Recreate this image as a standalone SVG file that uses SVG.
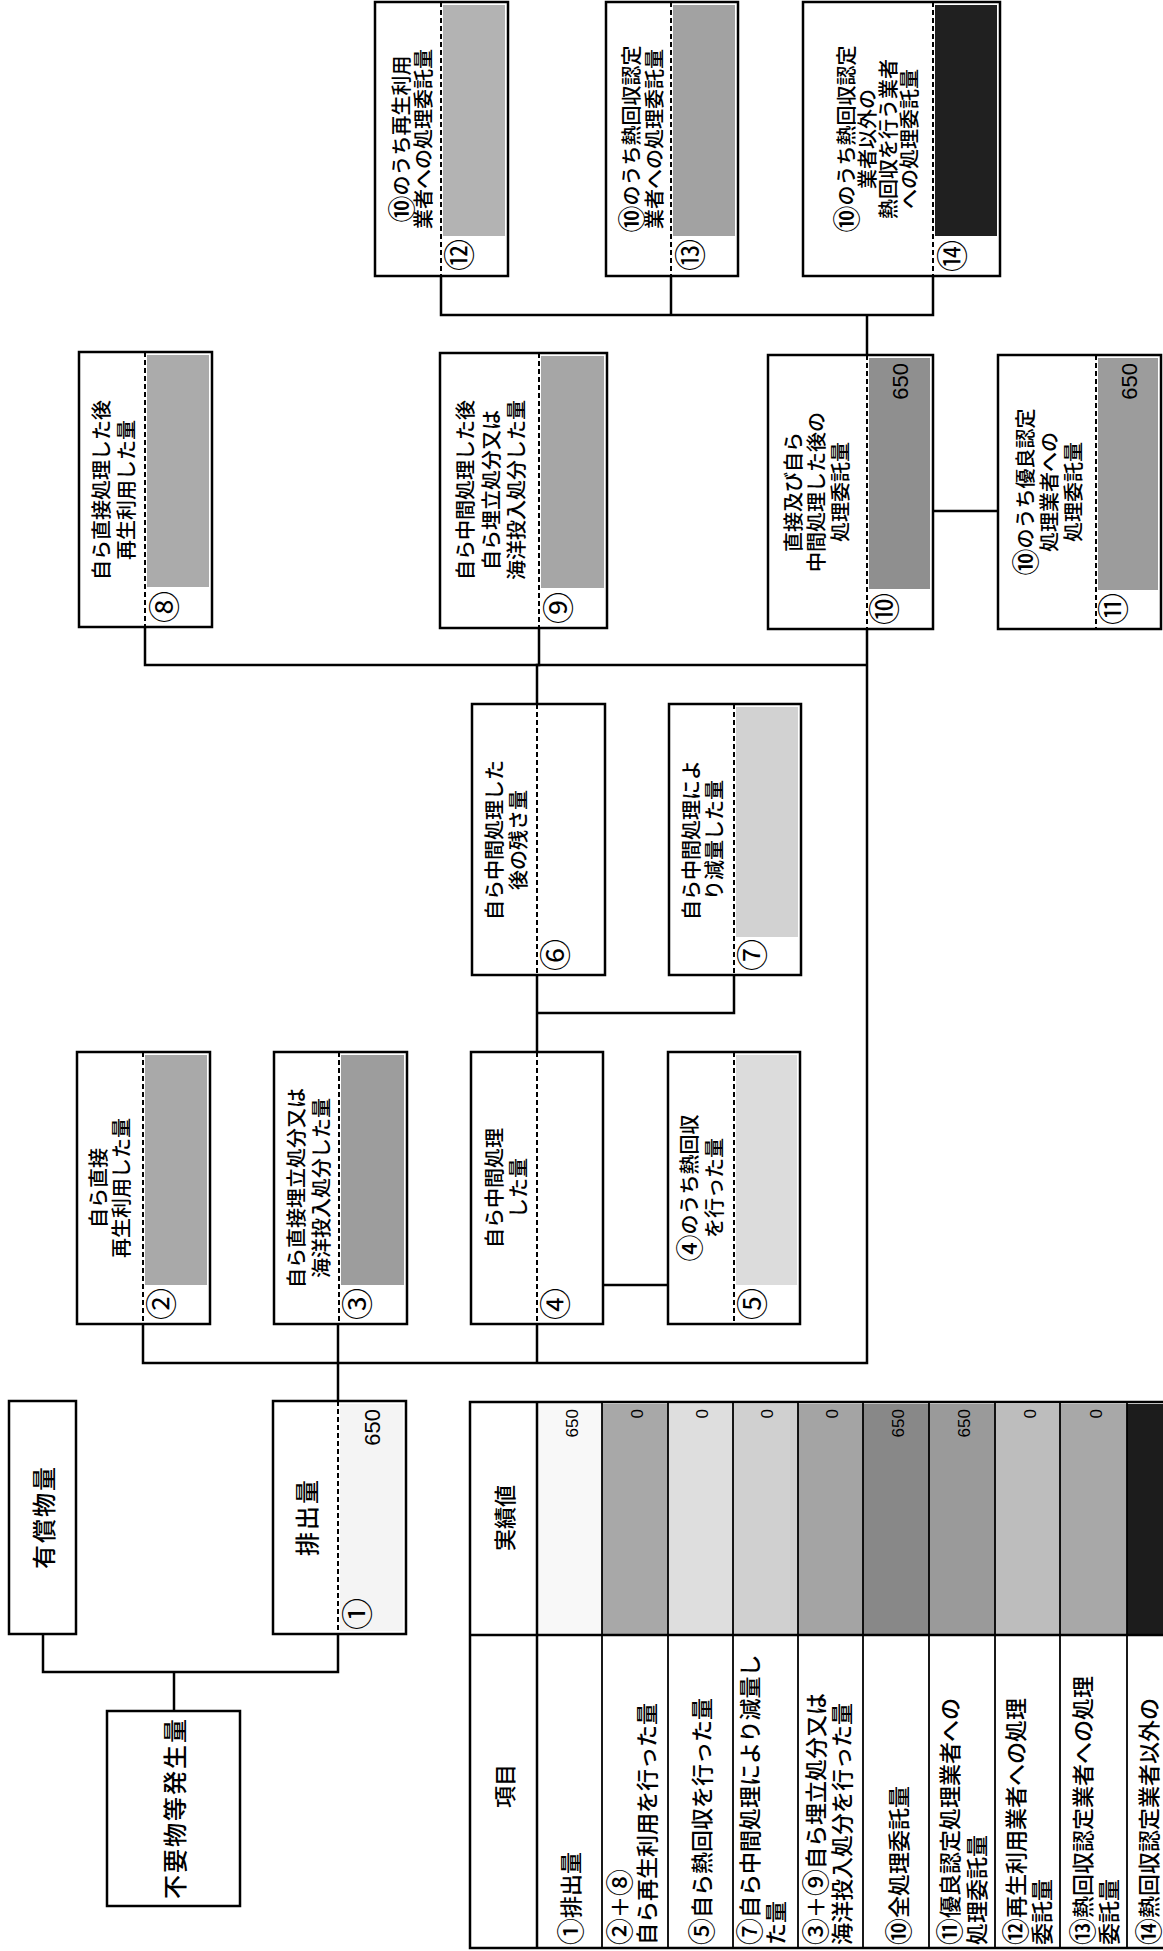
<svg xmlns="http://www.w3.org/2000/svg" width="1163" height="1951" viewBox="0 0 1163 1951">
<style>
.box{fill:#fff;stroke:#000;stroke-width:2.5}
.dash{stroke:#000;stroke-width:2;stroke-dasharray:5 3}
.conn{fill:none;stroke:#000;stroke-width:2.5}
.t{font-family:"Noto Sans CJK JP","Liberation Sans",sans-serif;font-size:20px;font-weight:500;text-anchor:middle;dominant-baseline:central;fill:#000}
.big{font-size:24px;letter-spacing:2px}
.c{font-size:27px}
.num{font-family:"Noto Sans CJK JP",sans-serif;font-size:32px;text-anchor:middle;dominant-baseline:central}
.val{font-family:"Liberation Sans",sans-serif;font-size:22px;text-anchor:end;dominant-baseline:central}
.tv{font-family:"Liberation Sans",sans-serif;font-size:17px;text-anchor:end;dominant-baseline:central}
.tl{font-family:"Noto Sans CJK JP",sans-serif;font-size:22px;font-weight:500;text-anchor:start;dominant-baseline:central}
.th{font-family:"Noto Sans CJK JP",sans-serif;font-size:22px;font-weight:500;text-anchor:middle;dominant-baseline:central}
.tb{fill:none;stroke:#000;stroke-width:2.5}
.ti{stroke:#000;stroke-width:1.8}
</style>

<g id="connectors" class="conn">
  <polyline points="43,1634 43,1672 338,1672 338,1634"/>
  <line x1="174" y1="1672" x2="174" y2="1711"/>
  <line x1="338" y1="1401" x2="338" y2="1324"/>
  <polyline points="143,1324 143,1363 867,1363 867,629"/>
  <line x1="537" y1="1324" x2="537" y2="1363"/>
  <line x1="603" y1="1285" x2="668" y2="1285"/>
  <line x1="537" y1="1052" x2="537" y2="975"/>
  <polyline points="537,1013 734,1013 734,975"/>
  <polyline points="537,704 537,665 539,665 539,628"/>
  <polyline points="145,627 145,665 867,665"/>
  <line x1="933" y1="511" x2="998" y2="511"/>
  <line x1="867" y1="355" x2="867" y2="315"/>
  <polyline points="441,276 441,315 933,315 933,276"/>
  <line x1="671" y1="276" x2="671" y2="315"/>
</g>

<g id="n-yusho">
  <rect class="box" x="9" y="1401" width="67" height="233"/>
  <text class="t big" transform="translate(42,1517) rotate(-90)">有償物量</text>
</g>

<g id="n-fuyo">
  <rect class="box" x="107" y="1711" width="133" height="195"/>
  <text class="t big" transform="translate(173,1808) rotate(-90)">不要物等発生量</text>
</g>

<g id="n1">
  <rect class="box" x="273" y="1401" width="133" height="233"/>
  <rect x="340" y="1404" width="63" height="227" fill="#f4f4f4"/>
  <line class="dash" x1="338" y1="1401" x2="338" y2="1634"/>
  <text class="t big" transform="translate(305,1517) rotate(-90)">排出量</text>
  <text class="val" transform="translate(372,1409) rotate(-90)">650</text>
  <text class="num" transform="translate(355,1614) rotate(-90)">①</text>
</g>

<g id="n2">
  <rect class="box" x="77" y="1052" width="133" height="272"/>
  <rect x="145" y="1055" width="62" height="230" fill="#a9a9a9"/>
  <line class="dash" x1="143" y1="1052" x2="143" y2="1324"/>
  <text class="t" transform="translate(97,1188) rotate(-90)">自ら直接</text>
  <text class="t" transform="translate(120,1188) rotate(-90)">再生利用した量</text>
  <text class="num" transform="translate(159,1304) rotate(-90)">②</text>
</g>

<g id="n3">
  <rect class="box" x="274" y="1052" width="133" height="272"/>
  <rect x="341" y="1055" width="63" height="230" fill="#9d9d9d"/>
  <line class="dash" x1="339" y1="1052" x2="339" y2="1324"/>
  <text class="t" transform="translate(295,1188) rotate(-90)">自ら直接埋立処分又は</text>
  <text class="t" transform="translate(320,1188) rotate(-90)">海洋投入処分した量</text>
  <text class="num" transform="translate(355,1304) rotate(-90)">③</text>
</g>

<g id="n4">
  <rect class="box" x="471" y="1052" width="132" height="272"/>
  <line class="dash" x1="537" y1="1052" x2="537" y2="1324"/>
  <text class="t" transform="translate(493,1188) rotate(-90)">自ら中間処理</text>
  <text class="t" transform="translate(517,1188) rotate(-90)">した量</text>
  <text class="num" transform="translate(553,1304) rotate(-90)">④</text>
</g>

<g id="n5">
  <rect class="box" x="668" y="1052" width="132" height="272"/>
  <rect x="736" y="1055" width="61" height="230" fill="#dcdcdc"/>
  <line class="dash" x1="734" y1="1052" x2="734" y2="1324"/>
  <text class="t" transform="translate(688,1188) rotate(-90)"><tspan class="c">④</tspan>のうち熱回収</text>
  <text class="t" transform="translate(713,1188) rotate(-90)">を行った量</text>
  <text class="num" transform="translate(750,1304) rotate(-90)">⑤</text>
</g>

<g id="n6">
  <rect class="box" x="472" y="704" width="133" height="271"/>
  <line class="dash" x1="537" y1="704" x2="537" y2="975"/>
  <text class="t" transform="translate(493,840) rotate(-90)">自ら中間処理した</text>
  <text class="t" transform="translate(517,840) rotate(-90)">後の残さ量</text>
  <text class="num" transform="translate(553,955) rotate(-90)">⑥</text>
</g>

<g id="n7">
  <rect class="box" x="669" y="704" width="132" height="271"/>
  <rect x="736" y="707" width="62" height="230" fill="#d2d2d2"/>
  <line class="dash" x1="734" y1="704" x2="734" y2="975"/>
  <text class="t" transform="translate(690,840) rotate(-90)">自ら中間処理によ</text>
  <text class="t" transform="translate(713,840) rotate(-90)">り減量した量</text>
  <text class="num" transform="translate(750,955) rotate(-90)">⑦</text>
</g>

<g id="n8">
  <rect class="box" x="79" y="352" width="133" height="275"/>
  <rect x="147" y="355" width="62" height="232" fill="#ababab"/>
  <line class="dash" x1="145" y1="352" x2="145" y2="627"/>
  <text class="t" transform="translate(100,490) rotate(-90)">自ら直接処理した後</text>
  <text class="t" transform="translate(125,490) rotate(-90)">再生利用した量</text>
  <text class="num" transform="translate(162,607) rotate(-90)">⑧</text>
</g>

<g id="n9">
  <rect class="box" x="440" y="353" width="167" height="275"/>
  <rect x="541" y="356" width="63" height="232" fill="#a6a6a6"/>
  <line class="dash" x1="539" y1="353" x2="539" y2="628"/>
  <text class="t" transform="translate(464,490) rotate(-90)">自ら中間処理した後</text>
  <text class="t" transform="translate(490,490) rotate(-90)">自ら埋立処分又は</text>
  <text class="t" transform="translate(515,490) rotate(-90)">海洋投入処分した量</text>
  <text class="num" transform="translate(556,608) rotate(-90)">⑨</text>
</g>

<g id="n10">
  <rect class="box" x="768" y="355" width="165" height="274"/>
  <rect x="869" y="358" width="61" height="231" fill="#8f8f8f"/>
  <line class="dash" x1="867" y1="355" x2="867" y2="629"/>
  <text class="t" transform="translate(792,492) rotate(-90)">直接及び自ら</text>
  <text class="t" transform="translate(815,492) rotate(-90)">中間処理した後の</text>
  <text class="t" transform="translate(839,492) rotate(-90)">処理委託量</text>
  <text class="val" transform="translate(900,363) rotate(-90)">650</text>
  <text class="num" transform="translate(882,609) rotate(-90)">⑩</text>
</g>

<g id="n11">
  <rect class="box" x="998" y="355" width="163" height="274"/>
  <rect x="1098" y="358" width="60" height="232" fill="#9c9c9c"/>
  <line class="dash" x1="1096" y1="355" x2="1096" y2="629"/>
  <text class="t" transform="translate(1024,492) rotate(-90)"><tspan class="c">⑩</tspan>のうち優良認定</text>
  <text class="t" transform="translate(1048,492) rotate(-90)">処理業者への</text>
  <text class="t" transform="translate(1072,492) rotate(-90)">処理委託量</text>
  <text class="val" transform="translate(1129,363) rotate(-90)">650</text>
  <text class="num" transform="translate(1111,609) rotate(-90)">⑪</text>
</g>

<g id="n12">
  <rect class="box" x="375" y="2" width="133" height="274"/>
  <rect x="443" y="5" width="62" height="231" fill="#b3b3b3"/>
  <line class="dash" x1="441" y1="2" x2="441" y2="276"/>
  <text class="t" transform="translate(400,139) rotate(-90)"><tspan class="c">⑩</tspan>のうち再生利用</text>
  <text class="t" transform="translate(422,139) rotate(-90)">業者への処理委託量</text>
  <text class="num" transform="translate(457,255) rotate(-90)">⑫</text>
</g>

<g id="n13">
  <rect class="box" x="606" y="2" width="132" height="274"/>
  <rect x="673" y="5" width="62" height="231" fill="#a2a2a2"/>
  <line class="dash" x1="671" y1="2" x2="671" y2="276"/>
  <text class="t" transform="translate(630,139) rotate(-90)"><tspan class="c">⑩</tspan>のうち熱回収認定</text>
  <text class="t" transform="translate(653,139) rotate(-90)">業者への処理委託量</text>
  <text class="num" transform="translate(688,255) rotate(-90)">⑬</text>
</g>

<g id="n14">
  <rect class="box" x="803" y="2" width="197" height="274"/>
  <rect x="935" y="5" width="62" height="231" fill="#202020"/>
  <line class="dash" x1="933" y1="2" x2="933" y2="276"/>
  <text class="t" transform="translate(845,139) rotate(-90)"><tspan class="c">⑩</tspan>のうち熱回収認定</text>
  <text class="t" transform="translate(866,139) rotate(-90)">業者以外の</text>
  <text class="t" transform="translate(887,139) rotate(-90)">熱回収を行う業者</text>
  <text class="t" transform="translate(908,139) rotate(-90)">への処理委託量</text>
  <text class="num" transform="translate(950,256) rotate(-90)">⑭</text>
</g>

<g id="table">
  <rect x="537" y="1404" width="65" height="231" fill="#f8f8f8"/>
  <rect x="602" y="1404" width="66" height="231" fill="#a8a8a8"/>
  <rect x="668" y="1404" width="65" height="231" fill="#dedede"/>
  <rect x="733" y="1404" width="65" height="231" fill="#d0d0d0"/>
  <rect x="798" y="1404" width="65" height="231" fill="#a4a4a4"/>
  <rect x="863" y="1404" width="66" height="231" fill="#888888"/>
  <rect x="929" y="1404" width="66" height="231" fill="#9a9a9a"/>
  <rect x="995" y="1404" width="65" height="231" fill="#bdbdbd"/>
  <rect x="1060" y="1404" width="67" height="231" fill="#a8a8a8"/>
  <rect x="1127" y="1404" width="36" height="231" fill="#1c1c1c"/>
  <polyline class="tb" points="1163,1402 470,1402 470,1948 1163,1948"/>
  <line class="tb" x1="537" y1="1402" x2="537" y2="1948"/>
  <line class="tb" x1="470" y1="1635" x2="1163" y2="1635"/>
  <line class="ti" x1="602" y1="1402" x2="602" y2="1948"/>
  <line class="ti" x1="668" y1="1402" x2="668" y2="1948"/>
  <line class="ti" x1="733" y1="1402" x2="733" y2="1948"/>
  <line class="ti" x1="798" y1="1402" x2="798" y2="1948"/>
  <line class="ti" x1="863" y1="1402" x2="863" y2="1948"/>
  <line class="ti" x1="929" y1="1402" x2="929" y2="1948"/>
  <line class="ti" x1="995" y1="1402" x2="995" y2="1948"/>
  <line class="ti" x1="1060" y1="1402" x2="1060" y2="1948"/>
  <line class="ti" x1="1127" y1="1402" x2="1127" y2="1948"/>
  <text class="th" transform="translate(503,1518) rotate(-90)">実績値</text>
  <text class="th" transform="translate(503,1786) rotate(-90)">項目</text>
  <text class="tv" transform="translate(572,1409) rotate(-90)">650</text>
  <text class="tv" transform="translate(637,1409) rotate(-90)">0</text>
  <text class="tv" transform="translate(702,1409) rotate(-90)">0</text>
  <text class="tv" transform="translate(767,1409) rotate(-90)">0</text>
  <text class="tv" transform="translate(832,1409) rotate(-90)">0</text>
  <text class="tv" transform="translate(898,1409) rotate(-90)">650</text>
  <text class="tv" transform="translate(964,1409) rotate(-90)">650</text>
  <text class="tv" transform="translate(1030,1409) rotate(-90)">0</text>
  <text class="tv" transform="translate(1096,1409) rotate(-90)">0</text>
  <text class="tl" transform="translate(569,1945) rotate(-90)"><tspan class="c">①</tspan>排出量</text>
  <text class="tl" transform="translate(618,1945) rotate(-90)"><tspan class="c">②</tspan>＋<tspan class="c">⑧</tspan></text>
  <text class="tl" transform="translate(645,1945) rotate(-90)">自ら再生利用を行った量</text>
  <text class="tl" transform="translate(700,1945) rotate(-90)"><tspan class="c">⑤</tspan>自ら熱回収を行った量</text>
  <text class="tl" transform="translate(748,1945) rotate(-90)"><tspan class="c">⑦</tspan>自ら中間処理により減量し</text>
  <text class="tl" transform="translate(774,1945) rotate(-90)">た量</text>
  <text class="tl" transform="translate(814,1945) rotate(-90)"><tspan class="c">③</tspan>＋<tspan class="c">⑨</tspan>自ら埋立処分又は</text>
  <text class="tl" transform="translate(840,1945) rotate(-90)">海洋投入処分を行った量</text>
  <text class="tl" transform="translate(897,1945) rotate(-90)"><tspan class="c">⑩</tspan>全処理委託量</text>
  <text class="tl" transform="translate(948,1945) rotate(-90)"><tspan class="c">⑪</tspan>優良認定処理業者への</text>
  <text class="tl" transform="translate(975,1945) rotate(-90)">処理委託量</text>
  <text class="tl" transform="translate(1014,1945) rotate(-90)"><tspan class="c">⑫</tspan>再生利用業者への処理</text>
  <text class="tl" transform="translate(1040,1945) rotate(-90)">委託量</text>
  <text class="tl" transform="translate(1081,1945) rotate(-90)"><tspan class="c">⑬</tspan>熱回収認定業者への処理</text>
  <text class="tl" transform="translate(1107,1945) rotate(-90)">委託量</text>
  <text class="tl" transform="translate(1147,1945) rotate(-90)"><tspan class="c">⑭</tspan>熱回収認定業者以外の</text>
</g>
</svg>
